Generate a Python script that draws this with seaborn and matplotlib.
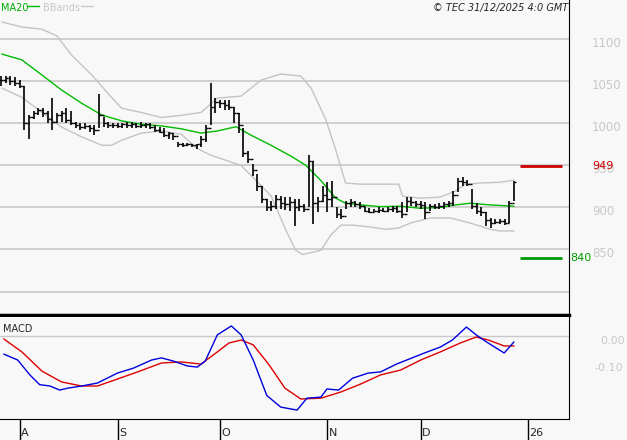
import numpy as np
import pandas as pd
import matplotlib
matplotlib.use("Agg")
import matplotlib.pyplot as plt
import matplotlib.transforms as mtransforms
import seaborn as sns

sns.set_style("white")
plt.rcParams['font.family'] = ['DejaVu Sans']

# trading days, one bar each
dates = pd.bdate_range('2025-07-28', '2025-12-29')

high = [1056, 1056, 1056, 1055, 1052, 1045, 1010, 1015, 1018, 1018, 1015, 1030, 1012, 1015, 1018,
        1015, 1002, 1000, 1000, 998, 998, 1035, 1008, 1002, 1001, 1000, 1001, 1002, 1002, 1001,
        1002, 1001, 1000, 998, 996, 994, 990, 988, 978, 977, 977, 976, 976, 985, 998,
        1048, 1030, 1028, 1028, 1028, 1020, 1012, 995, 967, 952, 940, 925, 910, 908, 915,
        914, 912, 912, 910, 910, 904, 962, 955, 912, 925, 930, 932, 900, 898, 908,
        910, 908, 906, 900, 899, 898, 900, 899, 900, 902, 902, 906, 912, 912, 908,
        908, 906, 904, 904, 905, 906, 908, 920, 935, 936, 933, 922, 905, 900, 895,
        888, 886, 886, 886, 908, 932]
low = [1044, 1048, 1046, 1045, 1042, 992, 982, 1005, 1010, 1008, 1000, 992, 1000, 1002, 1000,
       998, 994, 992, 993, 990, 986, 994, 996, 995, 994, 995, 994, 995, 994, 994,
       995, 994, 993, 990, 988, 984, 982, 980, 972, 972, 973, 972, 970, 972, 978,
       998, 1012, 1018, 1016, 1016, 1000, 988, 960, 953, 938, 920, 905, 896, 896, 898,
       898, 897, 896, 878, 896, 894, 900, 880, 895, 906, 895, 900, 888, 886, 898,
       900, 900, 898, 894, 893, 894, 893, 894, 894, 895, 893, 888, 894, 902, 900,
       898, 886, 896, 898, 898, 898, 900, 902, 918, 926, 926, 898, 892, 890, 878,
       876, 880, 880, 879, 882, 908]
close = [1052, 1054, 1050, 1048, 1045, 1000, 1008, 1012, 1016, 1012, 1005, 1002, 1010, 1012, 1004,
         1000, 998, 996, 997, 995, 992, 1010, 1000, 998, 998, 997, 999, 998, 999, 997,
         998, 999, 996, 992, 990, 986, 988, 985, 975, 974, 975, 974, 975, 982, 995,
         1020, 1025, 1024, 1022, 1020, 1012, 998, 965, 958, 945, 925, 910, 900, 902, 910,
         905, 904, 906, 900, 902, 898, 955, 905, 908, 915, 910, 912, 892, 890, 905,
         906, 904, 902, 896, 895, 896, 897, 896, 898, 899, 896, 892, 908, 906, 904,
         903, 895, 902, 901, 902, 904, 905, 915, 932, 930, 928, 902, 896, 894, 885,
         882, 883, 884, 882, 905, 930]

# indicator curves (bar index, value)
ma_idx = [0.2, 4.5, 8.8, 13, 17.3, 21.6, 25.9, 30.1, 34.4, 38.7, 42.9, 46.4, 50.4, 53.6, 57.9,
          62.2, 65.4, 68.6, 71.8, 73.9, 77.1, 81.4, 85.7, 89.9, 94.2, 97.4, 100.6, 104.9, 110]
ma20 = [1082.5, 1075.5, 1057.5, 1039.7, 1024, 1010, 1003, 999, 997, 993.5, 988.5, 991, 996, 986, 974,
        961, 950, 932, 911, 905, 903, 901, 901.5, 899, 900, 903, 905, 903, 901.5]
up_idx = [0.2, 4.5, 8.8, 12, 15.2, 19.5, 23.7, 25.9, 30.1, 34.4, 38.7, 42.9, 46.4, 51.5, 55.8,
          60, 64.3, 66.5, 69.7, 71.8, 73.9, 77.1, 81.4, 85.3, 86.1, 89.9, 94.2, 97.4, 99.6, 102.8,
          107, 110]
upper = [1120.6, 1114.7, 1112, 1104, 1081, 1057.5, 1031, 1018, 1013, 1007, 1009.6, 1013, 1030, 1032.5, 1051.6,
         1058.7, 1056.3, 1042, 1004, 968, 929, 927.7, 927.7, 927.7, 913.5, 911, 912.3, 919.4, 927.7, 929,
         930, 932.5]
lo_idx = [0.2, 4.5, 8.8, 13, 17.3, 21.6, 23.7, 25.9, 30.1, 34.4, 38.7, 41.9, 45.1, 51.5, 57.9,
          61.1, 63.2, 64.7, 68.6, 70.7, 72.9, 75.4, 79.3, 82.5, 85.3, 87.8, 92.1, 96.4, 100.6, 104.9,
          107, 110]
lower = [1042, 1031, 1013, 995.6, 984, 974, 974, 980, 988.5, 991, 987, 970.6, 962, 950, 914,
         873, 849, 844, 849, 867, 879, 879, 876.7, 874, 875.5, 881.5, 887.5, 887.5, 881.5, 874,
         872, 872]

macd_idx = [0.6, 3.6, 6.2, 8.3, 10.5, 12.6, 14.3, 17.3, 20.7, 25, 28.4, 32.3, 34.4, 37, 40,
            42.1, 43.8, 46.4, 49.4, 51.5, 54.1, 57, 60, 63.5, 65.6, 68.6, 69.9, 72.4, 75.4, 78.8,
            81.4, 84.8, 87, 90.8, 94.2, 96.8, 99.8, 101.9, 104.1, 107.9, 110]
macd = [-0.067, -0.089, -0.144, -0.18, -0.185, -0.2, -0.193, -0.185, -0.174, -0.137, -0.119, -0.089, -0.081, -0.093, -0.111,
        -0.115, -0.093, 0.004, 0.037, 0.004, -0.089, -0.22, -0.263, -0.274, -0.23, -0.226, -0.196, -0.2, -0.156, -0.137,
        -0.133, -0.104, -0.089, -0.063, -0.041, -0.015, 0.033, 0.004, -0.022, -0.063, -0.022]
sig_idx = [0.6, 4.5, 8.8, 13, 17.3, 20.7, 25, 29.3, 34.4, 38.7, 42.9, 46.4, 48.9, 51.5, 54.1,
           57.5, 60.9, 64.3, 68.6, 72.9, 77.1, 81.4, 85.7, 90, 94.2, 98.5, 101.9, 104.5, 107.9, 110]
signal = [-0.011, -0.059, -0.13, -0.17, -0.185, -0.185, -0.159, -0.133, -0.1, -0.096, -0.104, -0.059, -0.026, -0.015, -0.033,
          -0.107, -0.193, -0.233, -0.23, -0.207, -0.178, -0.144, -0.126, -0.089, -0.059, -0.026, -0.004, -0.015, -0.037, -0.037]

price_ticks = [1100, 1050, 1000, 950, 900, 850]
level_hi, level_lo = 949, 840
months = ['A', 'S', 'O', 'N', 'D', '26']
month_starts = ['2025-08-01', '2025-09-01', '2025-10-01', '2025-11-03', '2025-12-01', '2026-01-01']

bg = '#f8f8f8'
idx = np.arange(len(dates))
all_days = pd.bdate_range('2025-07-28', '2026-01-02')
mpos = [all_days.get_loc(pd.Timestamp(m)) for m in month_starts]

fig = plt.figure(figsize=(6.27, 4.40), dpi=100, facecolor=bg)
ax = fig.add_axes([0, 0.284, 0.9075, 0.716], facecolor=bg)
ax2 = fig.add_axes([0, 0.0477, 0.9075, 0.2318], facecolor=bg)
xlim = (-0.2, 121.8)

# price panel
for p in price_ticks + [800]:
    ax.axhline(p, color='#c8c8c8', lw=1.2, zorder=0)
sns.lineplot(x=up_idx, y=upper, ax=ax, color='#c4c4c4', lw=1)
sns.lineplot(x=lo_idx, y=lower, ax=ax, color='#c4c4c4', lw=1)
sns.lineplot(x=ma_idx, y=ma20, ax=ax, color='#00bb00', lw=1)
opens = [close[0]] + close[:-1]
ax.vlines(idx, low, high, color='black', lw=1.2)
ax.hlines(opens, idx - 0.5, idx, color='black', lw=1)
ax.hlines(close, idx, idx + 0.5, color='black', lw=1)
ax.hlines(level_hi, 111.2, 120.2, color='#cc0000', lw=2)
ax.hlines(level_lo, 111.2, 120.2, color='#009900', lw=2)
ax.set_xlim(*xlim)
ax.set_ylim(772, 1146.8)
ax.set_xticks([])
ax.set_yticks([])
for s in ['top', 'left']:
    ax.spines[s].set_visible(False)
ax.spines['right'].set_color('black')
ax.spines['bottom'].set_linewidth(2.5)
ax.spines['bottom'].set_color('black')
tr = mtransforms.blended_transform_factory(ax.transAxes, ax.transData)
for p in price_ticks:
    ax.text(1.04, p - 5, f'{p}', transform=tr, fontsize=8.5, color='#c8c8c8', va='center', ha='left')
ax.text(1.04, level_hi, f'{level_hi}', transform=tr, fontsize=8, color='#cc0000', va='center', ha='left')
ax.text(1.002, level_lo, f'{level_lo}', transform=tr, fontsize=8, color='#009900', va='center', ha='left')
ax.text(0.002, 0.992, 'MA20', transform=ax.transAxes, fontsize=7, color='#00aa00', va='top')
ax.plot([0.048, 0.068], [0.982, 0.982], transform=ax.transAxes, color='#00bb00', lw=1)
ax.text(0.075, 0.992, 'BBands', transform=ax.transAxes, fontsize=7, color='#c8c8c8', va='top')
ax.plot([0.143, 0.163], [0.982, 0.982], transform=ax.transAxes, color='#c8c8c8', lw=1)
ax.text(0.998, 0.992, '© TEC 31/12/2025 4:0 GMT', transform=ax.transAxes, fontsize=7,
        style='italic', va='top', ha='right')

# MACD panel
ax2.axhline(0, color='#c8c8c8', lw=1, zorder=0)
sns.lineplot(x=sig_idx, y=signal, ax=ax2, color='#dd0000', lw=1)
sns.lineplot(x=macd_idx, y=macd, ax=ax2, color='#0000dd', lw=1)
ax2.set_xlim(*xlim)
ax2.set_ylim(-0.307, 0.07)
ax2.set_yticks([])
for s in ['top', 'left']:
    ax2.spines[s].set_visible(False)
ax2.spines['right'].set_color('black')
ax2.spines['bottom'].set_color('black')
ax2.set_xticks(mpos)
ax2.set_xticklabels([])
ax2.tick_params(axis='x', bottom=True, direction='out', length=18, width=1, color='black')
trx = mtransforms.blended_transform_factory(ax2.transData, ax2.transAxes)
for m, lab in zip(mpos, months):
    ax2.text(m + 0.3, -0.19, lab, transform=trx, fontsize=8, va='bottom', ha='left')
tr2 = mtransforms.blended_transform_factory(ax2.transAxes, ax2.transData)
ax2.text(1.055, -0.018, '0.00', transform=tr2, fontsize=8, color='#c8c8c8', va='center')
ax2.text(1.045, -0.118, '-0.10', transform=tr2, fontsize=8, color='#c8c8c8', va='center')
ax2.text(0.005, 0.93, 'MACD', transform=ax2.transAxes, fontsize=7, va='top')

fig.savefig('out.png', dpi=100, facecolor=bg)
